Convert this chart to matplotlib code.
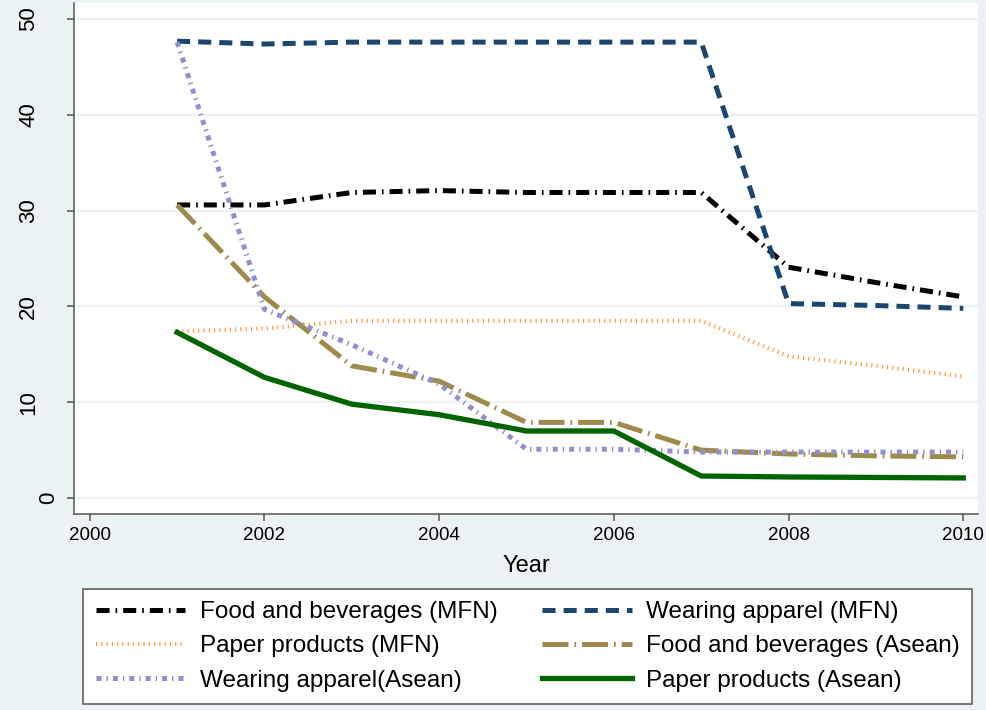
import matplotlib
matplotlib.use("Agg")
import matplotlib.pyplot as plt
import matplotlib.transforms as mtransforms

years = [2001, 2002, 2003, 2004, 2005, 2006, 2007, 2008, 2009, 2010]

food_mfn = [30.6, 30.6, 31.9, 32.1, 31.9, 31.9, 31.9, 24.1, 22.5, 21.0]
wear_mfn = [47.7, 47.4, 47.6, 47.6, 47.6, 47.6, 47.6, 20.3, 20.1, 19.8]
paper_mfn = [17.4, 17.7, 18.5, 18.5, 18.5, 18.5, 18.5, 14.8, 13.8, 12.7]
food_asean = [30.6, 21.0, 13.8, 12.2, 7.9, 7.9, 5.0, 4.6, 4.4, 4.3]
wear_asean = [47.6, 19.7, 16.0, 11.9, 5.1, 5.1, 4.8, 4.8, 4.8, 4.8]
paper_asean = [17.3, 12.6, 9.8, 8.7, 7.0, 7.0, 2.3, 2.2, 2.15, 2.1]

labels = ["Food and beverages (MFN)", "Wearing apparel (MFN)",
          "Paper products (MFN)", "Food and beverages (Asean)",
          "Wearing apparel(Asean)", "Paper products (Asean)"]

plt.rcParams['font.family'] = ['Liberation Sans', 'DejaVu Sans']
plt.rcParams['lines.scale_dashes'] = False

bg = '#EAF2F3'
fig = plt.figure(figsize=(9.87, 7.10), dpi=100, facecolor=bg)
ax = fig.add_axes([0.075, 0.276, 0.916, 0.72])
ax.set_facecolor('white')

h1, = ax.plot(years, food_mfn, color='black', lw=3.6, dashes=(9.4, 4.3, 1.2, 4.3))
h2, = ax.plot(years, wear_mfn, color='#1a476f', lw=3.6, dashes=(9.4, 5.8))
h3, = ax.plot(years, paper_mfn, color='#FF9430', lw=3.0, dashes=(0.8, 3.0))
h4, = ax.plot(years, food_asean, color='#9E8A4B', lw=3.6, dashes=(18.7, 4.3, 1.2, 4.3))
h5, = ax.plot(years, wear_asean, color='#938DD2', lw=3.6, dashes=(3.6, 3.6, 1.0, 3.6))
h6, = ax.plot(years, paper_asean, color='#006400', lw=3.8)

ax.set_xlim(1999.82, 2010.17)
ax.set_ylim(-1.67, 51.7)
ax.set_xticks([2000, 2002, 2004, 2006, 2008, 2010])
ax.set_yticks([0, 10, 20, 30, 40, 50])
ax.grid(axis='y', color=bg, lw=1.5)
ax.set_axisbelow(True)
for s in ['top', 'right']:
    ax.spines[s].set_visible(False)
for s in ['left', 'bottom']:
    ax.spines[s].set_color('#555555')
    ax.spines[s].set_linewidth(1.1)
ax.tick_params(axis='y', length=5, width=1.1, color='#555555', labelsize=16, pad=20)
ax.tick_params(axis='x', length=5, width=1.1, color='#555555', labelsize=13.5, pad=4)
for t in ax.get_yticklabels():
    t.set_rotation(90)
    t.set_va('center')
# the "0" label sits closer to the axis in the original
zero = ax.get_yticklabels()[0]
zero.set_transform(zero.get_transform() +
                   mtransforms.ScaledTranslation(20 / 100, 0, fig.dpi_scale_trans))
ax.set_xlabel("Year", fontsize=17, labelpad=8)

# matplotlib fills legend columns first, so reorder to read row by row
order = [0, 2, 4, 1, 3, 5]
handles = [h1, h2, h3, h4, h5, h6]
leg = fig.legend([handles[i] for i in order], [labels[i] for i in order],
                 ncol=2, loc='center',
                 bbox_to_anchor=(0.084, 0.007, 0.901, 0.165),
                 bbox_transform=fig.transFigure, mode='expand', borderaxespad=0,
                 fontsize=17.5, handlelength=3.7, handletextpad=0.58,
                 labelspacing=0.5, borderpad=0.52, fancybox=False,
                 frameon=True, framealpha=1)
leg.get_frame().set_edgecolor('#555555')
leg.get_frame().set_linewidth(1.1)

fig.savefig("out.png", dpi=100, facecolor=bg)
